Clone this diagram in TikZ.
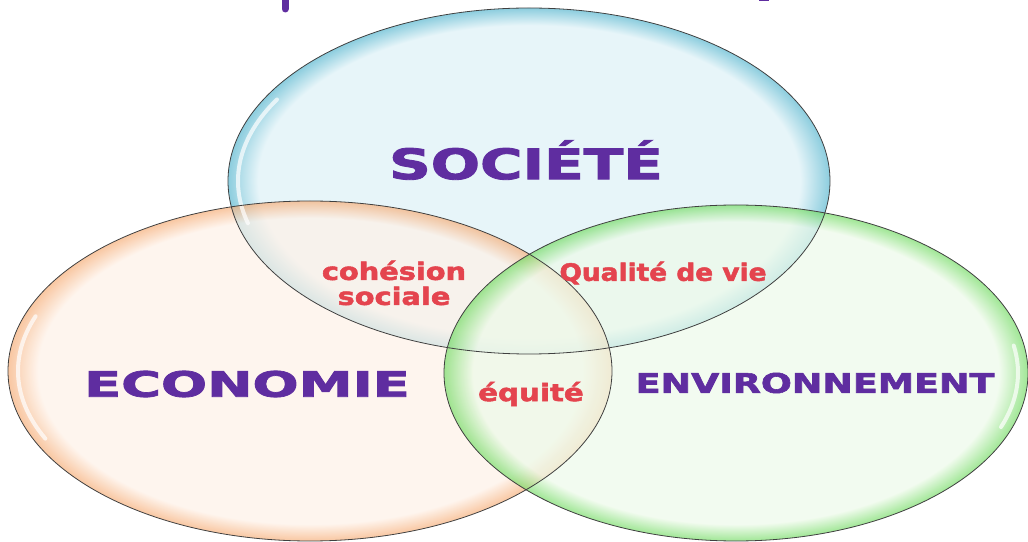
\documentclass[tikz,border=0pt]{standalone}
\usepackage{fontspec}
\setmainfont{DejaVu Sans}
\newfontfamily\epaisse[FakeBold=2]{DejaVu Sans Bold}
\usepackage{graphicx}

\definecolor{bleuFond}{RGB}{231,245,249}
\definecolor{bleuBord}{RGB}{140,205,222}
\definecolor{orangeFond}{RGB}{254,241,231}
\definecolor{orangeBord}{RGB}{246,175,122}
\definecolor{vertFond}{RGB}{237,250,233}
\definecolor{vertBord}{RGB}{120,220,105}
\definecolor{titreViolet}{RGB}{95,45,160}
\definecolor{rougeTexte}{RGB}{228,68,78}

\pgfdeclareradialshading{bulleBleue}{\pgfpointorigin}{color(0bp)=(bleuFond); color(22.5bp)=(bleuFond); color(25bp)=(bleuBord); color(50bp)=(bleuBord)}
\pgfdeclareradialshading{bulleOrange}{\pgfpointorigin}{color(0bp)=(orangeFond); color(22.5bp)=(orangeFond); color(25bp)=(orangeBord); color(50bp)=(orangeBord)}
\pgfdeclareradialshading{bulleVerte}{\pgfpointorigin}{color(0bp)=(vertFond); color(22.5bp)=(vertFond); color(25bp)=(vertBord); color(50bp)=(vertBord)}

\begin{document}
\begin{tikzpicture}[x=1pt, y=1pt,
  bord/.style={draw=black!75, line width=0.8pt},
  reflet/.style={draw=white, line width=4pt, opacity=0.7, line cap=round},
  grand/.style={text=titreViolet},
  petit/.style={font=\epaisse\fontsize{24}{24}\selectfont, text=rougeTexte, align=center}]
\useasboundingbox (0,0) rectangle (1028,541);
%
% bribes du titre
\draw [titreViolet, line width=7pt, line cap=round] (285,550) -- (285,532);
\draw [titreViolet, line width=4pt] (759,542) -- (769,542);
%
% les trois bulles
\shade [shading=bulleBleue] (529,360) ellipse [x radius=301, y radius=173];
\shade [shading=bulleOrange, opacity=0.7] (310,170) ellipse [x radius=302, y radius=170];
\shade [shading=bulleVerte, opacity=0.7] (736,168) ellipse [x radius=292, y radius=168];
%
\draw [reflet] ([shift={(150:291 and 163)}]529,360) arc [start angle=150, end angle=195, x radius=291, y radius=163];
\draw [reflet] ([shift={(160:292 and 160)}]310,170) arc [start angle=160, end angle=205, x radius=292, y radius=160];
\draw [reflet] ([shift={(340:282 and 158)}]736,168) arc [start angle=340, end angle=370, x radius=282, y radius=158];
%
\draw [bord] (529,360) ellipse [x radius=301, y radius=173];
\draw [bord] (310,170) ellipse [x radius=302, y radius=170];
\draw [bord] (736,168) ellipse [x radius=292, y radius=168];
%
% les trois piliers
\node (societe) at (526,381) [grand, font=\epaisse\fontsize{42}{42}\selectfont] {\scalebox{1.38}[1]{SOCIÉTÉ}};
\node (economie) at (247,157) [grand, font=\epaisse\fontsize{35}{35}\selectfont] {\scalebox{1.55}[1]{ECONOMIE}};
\node (environnement) at (815,158) [grand, font=\epaisse\fontsize{27}{27}\selectfont] {\scalebox{1.35}[1]{ENVIRONNEMENT}};
%
% les intersections
\node (cohesion) at (394,258) [petit] {\scalebox{1.2}[1]{cohésion}\\[1pt]\scalebox{1.2}[1]{sociale}};
\node (qualite) at (663,268) [petit] {\scalebox{1.1}[1]{Qualité de vie}};
\node (equite) at (531,147) [petit] {\scalebox{1.22}[1]{équité}};
\end{tikzpicture}
\end{document}
